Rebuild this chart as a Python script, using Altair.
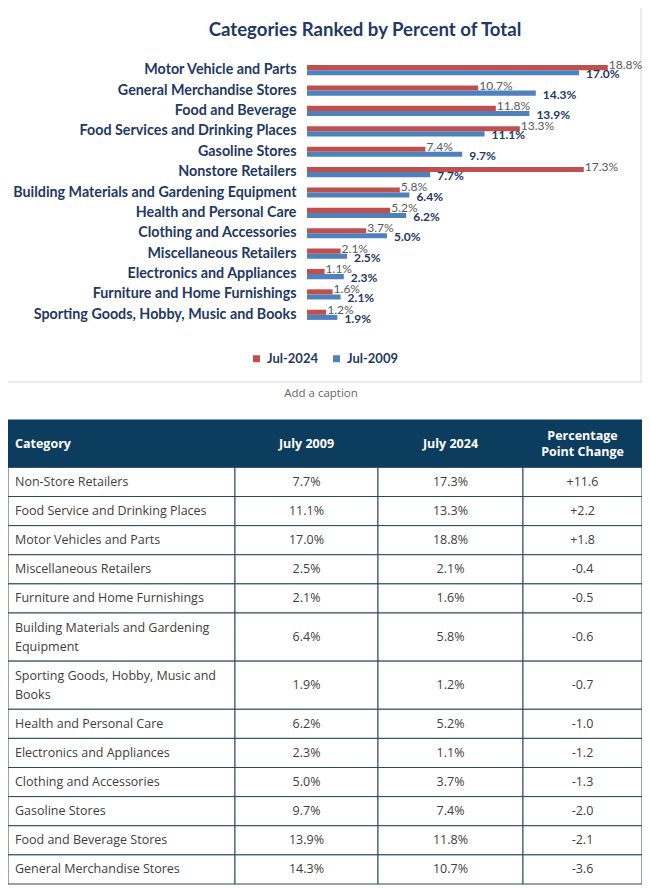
import altair as alt
import pandas as pd

# ------------------------------------------------------------------ data
chart_title = "Categories Ranked by Percent of Total"
caption_text = "Add a caption"
series_names = ["Jul-2024", "Jul-2009"]

chart_categories = [
    "Motor Vehicle and Parts ",
    "General Merchandise Stores",
    "Food and  Beverage",
    "Food Services and Drinking Places",
    "Gasoline Stores",
    "Nonstore Retailers",
    "Building Materials and Gardening Equipment",
    "Health and Personal Care",
    "Clothing and Accessories",
    "Miscellaneous Retailers",
    "Electronics and  Appliances",
    "Furniture and Home Furnishings",
    "Sporting Goods, Hobby, Music and Books",
]
jul_2024 = [18.8, 10.7, 11.8, 13.3, 7.4, 17.3, 5.8, 5.2, 3.7, 2.1, 1.1, 1.6, 1.2]
jul_2009 = [17.0, 14.3, 13.9, 11.1, 9.7, 7.7, 6.4, 6.2, 5.0, 2.5, 2.3, 2.1, 1.9]
x_ticks = [0, 2, 4, 6, 8, 10, 12, 14, 16, 18, 20]

table_header = ["Category", "July 2009", "July 2024", "Percentage\nPoint Change"]
table_categories = [
    "Non-Store Retailers",
    "Food Service and Drinking Places",
    "Motor Vehicles and Parts",
    "Miscellaneous Retailers",
    "Furniture and Home Furnishings",
    "Building Materials and Gardening\nEquipment",
    "Sporting Goods, Hobby, Music and\nBooks",
    "Health and Personal Care",
    "Electronics and Appliances",
    "Clothing and Accessories",
    "Gasoline Stores",
    "Food and Beverage Stores",
    "General Merchandise Stores",
]
table_2009 = [7.7, 11.1, 17.0, 2.5, 2.1, 6.4, 1.9, 6.2, 2.3, 5.0, 9.7, 13.9, 14.3]
table_2024 = [17.3, 13.3, 18.8, 2.1, 1.6, 5.8, 1.2, 5.2, 1.1, 3.7, 7.4, 11.8, 10.7]
table_change = [11.6, 2.2, 1.8, -0.4, -0.5, -0.6, -0.7, -1.0, -1.2, -1.3, -2.0, -2.1, -3.6]

# ------------------------------------------------------------------ layout / style
W, H = 634, 877
NAVY = "#1F3864"
RED, BLUE = "#C0504D", "#4F81BD"
GRID = "#d9d9d9"
TBL_HEAD = "#0d3d5e"
TBL_LINE = "#2b4860"
TBL_TEXT = "#404040"
CHART_FONT = "Lato"
TABLE_FONT = "Open Sans"

col_widths = [227, 143, 145, 119]
header_h, row_h, extra_line_h = 48, 29.5, 19.25
body_line_h, head_line_h = 19, 16
cell_pad = 7

# ------------------------------------------------------------------ bar chart
bars_df = pd.DataFrame({
    "category": chart_categories * 2,
    "series": [series_names[0]] * len(jul_2024) + [series_names[1]] * len(jul_2009),
    "value": jul_2024 + jul_2009,
})
bars_df["label"] = bars_df["value"].map(lambda v: f"{v:.1f}%")

bx = alt.X(
    "value:Q",
    scale=alt.Scale(domain=[0, 20], range=[299, 619], nice=False),
    axis=alt.Axis(values=x_ticks, grid=True, labels=False, ticks=False, domain=False,
                  title=None, gridColor=GRID, gridWidth=1),
)
by = alt.Y(
    "category:N",
    sort=chart_categories,
    scale=alt.Scale(domain=chart_categories, range=[52, 317], paddingInner=0.5, paddingOuter=0.25),
    axis=alt.Axis(title=None, orient="left", offset=-288, labelPadding=0, ticks=False,
                  domain=False, labelFont=CHART_FONT, labelFontWeight="bold",
                  labelFontSize=14.3, labelColor=NAVY, labelLimit=400),
)
byo = alt.YOffset("series:N", sort=series_names, scale=alt.Scale(domain=series_names))

bar_base = alt.Chart(bars_df)
bars = bar_base.mark_bar().encode(
    x=bx, y=by, yOffset=byo,
    color=alt.Color(
        "series:N",
        scale=alt.Scale(domain=series_names, range=[RED, BLUE]),
        legend=alt.Legend(title=None, orient="none", legendX=242, legendY=344,
                          direction="horizontal", symbolType="square", symbolSize=49,
                          symbolStrokeWidth=0, labelFont=CHART_FONT, labelFontSize=13,
                          labelFontWeight="bold", labelColor=NAVY, labelOffset=4,
                          columnPadding=12, padding=0),
    ),
)
lab24 = bar_base.transform_filter(alt.datum.series == series_names[0]).mark_text(
    align="left", baseline="middle", dx=1, dy=-2.5, font=CHART_FONT, fontSize=12, color="#595959"
).encode(x=bx, y=by, yOffset=byo, text="label:N")
lab09 = bar_base.transform_filter(alt.datum.series == series_names[1]).mark_text(
    align="left", baseline="middle", dx=7, dy=1.5, font=CHART_FONT, fontSize=12,
    fontWeight="bold", color=NAVY
).encode(x=bx, y=by, yOffset=byo, text="label:N")

bar_group = alt.layer(bars, lab24, lab09)

# ------------------------------------------------------------------ decorations
one = pd.DataFrame({"t": [chart_title]})
title_mark = alt.Chart(one).mark_text(
    font=CHART_FONT, fontSize=18.6, fontWeight="bold", color=NAVY, align="center", baseline="middle"
).encode(text="t:N", x=alt.value(357), y=alt.value(22))

cap = pd.DataFrame({"t": [caption_text]})
caption_mark = alt.Chart(cap).mark_text(
    font=TABLE_FONT, fontSize=11.5, color="#666666", align="center", baseline="middle"
).encode(text="t:N", x=alt.value(313), y=alt.value(386))

frame_r = alt.Chart(cap).mark_rule(color=GRID, strokeWidth=1).encode(
    x=alt.value(633), y=alt.value(0), y2=alt.value(374))
frame_b = alt.Chart(cap).mark_rule(color=GRID, strokeWidth=1).encode(
    x=alt.value(0), x2=alt.value(634), y=alt.value(374))

# ------------------------------------------------------------------ table
col_x0 = [sum(col_widths[:i]) for i in range(len(col_widths))]
col_x1 = [col_x0[i] + col_widths[i] for i in range(len(col_widths))]
total_w = sum(col_widths)


def text_x(c):
    return col_x0[c] + cell_pad if c == 0 else (col_x0[c] + col_x1[c]) / 2


rows = []
y = header_h
for i, cat in enumerate(table_categories):
    n_lines = cat.count("\n") + 1
    h = row_h + (n_lines - 1) * extra_line_h
    texts = [cat, f"{table_2009[i]:.1f}%", f"{table_2024[i]:.1f}%", f"{table_change[i]:+.1f}"]
    for c, t in enumerate(texts):
        k = t.count("\n")
        rows.append({
            "col": c, "x0": col_x0[c], "x1": col_x1[c], "y0": y, "y1": y + h,
            "text": t, "tx": text_x(c),
            "ty": y + h / 2 - k * body_line_h / 2,
        })
    y += h
total_h = y
body_df = pd.DataFrame(rows)

head_df = pd.DataFrame({
    "col": list(range(4)),
    "x0": col_x0, "x1": col_x1,
    "y0": [0] * 4, "y1": [header_h] * 4,
    "text": table_header,
    "tx": [text_x(c) for c in range(4)],
    "ty": [header_h / 2 - t.count("\n") * head_line_h / 2 for t in table_header],
})

tsx = alt.Scale(domain=[0, total_w], range=[0, W], nice=False, zero=False)
tsy = alt.Scale(domain=[0, total_h], range=[412, 876], nice=False, zero=False)


def tx(field):
    return alt.X(field, type="quantitative", scale=tsx, axis=None)


def ty(field):
    return alt.Y(field, type="quantitative", scale=tsy, axis=None)


head_rect = alt.Chart(head_df).mark_rect(fill=TBL_HEAD, stroke=TBL_HEAD, strokeWidth=1).encode(
    x=tx("x0"), x2="x1:Q", y=ty("y0"), y2="y1:Q")
body_rect = alt.Chart(body_df).mark_rect(fill="white", stroke=TBL_LINE, strokeWidth=1).encode(
    x=tx("x0"), x2="x1:Q", y=ty("y0"), y2="y1:Q")

head_left = alt.Chart(head_df).transform_filter(alt.datum.col == 0).mark_text(
    align="left", baseline="middle", font=TABLE_FONT, fontSize=12.5, fontWeight="bold",
    color="white", lineBreak="\n", lineHeight=head_line_h
).encode(x=tx("tx"), y=ty("ty"), text="text:N")
head_center = alt.Chart(head_df).transform_filter(alt.datum.col > 0).mark_text(
    align="center", baseline="middle", font=TABLE_FONT, fontSize=12.5, fontWeight="bold",
    color="white", lineBreak="\n", lineHeight=head_line_h
).encode(x=tx("tx"), y=ty("ty"), text="text:N")
body_left = alt.Chart(body_df).transform_filter(alt.datum.col == 0).mark_text(
    align="left", baseline="middle", font=TABLE_FONT, fontSize=12.5,
    color=TBL_TEXT, lineBreak="\n", lineHeight=body_line_h
).encode(x=tx("tx"), y=ty("ty"), text="text:N")
body_center = alt.Chart(body_df).transform_filter(alt.datum.col > 0).mark_text(
    align="center", baseline="middle", font=TABLE_FONT, fontSize=12.5,
    color=TBL_TEXT, lineBreak="\n", lineHeight=body_line_h
).encode(x=tx("tx"), y=ty("ty"), text="text:N")

table_group = alt.layer(head_rect, body_rect, head_left, head_center, body_left, body_center)

# ------------------------------------------------------------------ compose
chart = alt.layer(
    frame_r, frame_b, title_mark, bar_group, caption_mark, table_group
).resolve_scale(
    x="independent", y="independent"
).properties(
    width=W, height=H, padding=0,
    autosize=alt.AutoSizeParams(type="none"),
    background="white",
).configure_view(stroke=None)

chart.save("out.html", embed_options={"renderer": "svg", "actions": False})
